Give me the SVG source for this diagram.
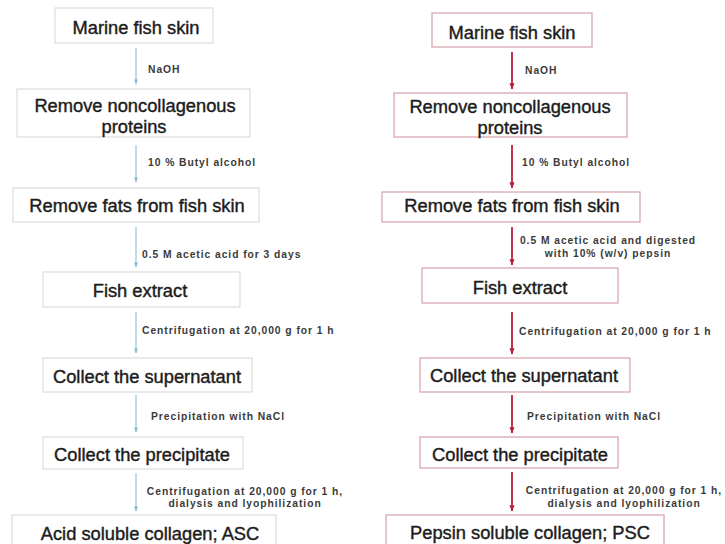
<svg xmlns="http://www.w3.org/2000/svg" width="725" height="544" viewBox="0 0 725 544">
<defs>
<marker id="ab" viewBox="0 0 6 6" refX="5.5" refY="3" markerWidth="5" markerHeight="5" orient="auto"><path d="M0,0.8 L6,3 L0,5.2 Z" fill="#7fb7d3"/></marker>
<marker id="ar" viewBox="0 0 6 6" refX="5.5" refY="3" markerWidth="3.5" markerHeight="3.5" orient="auto"><path d="M0,0.5 L6,3 L0,5.5 Z" fill="#b5203c"/></marker>
</defs>
<style>
.bl{fill:#fff;stroke:#dcdcdc;stroke-width:1.2}
.br{fill:#fff;stroke:#d9a8ae;stroke-width:1.3}
.t{font-family:"Liberation Sans",Arial,sans-serif;font-size:18.3px;fill:#1c1c1c;text-anchor:middle;stroke:#1c1c1c;stroke-width:0.4}
.l{font-family:"Liberation Sans",Arial,sans-serif;font-size:10.3px;font-weight:bold;letter-spacing:0.95px;fill:#3a3a3a}
.lm{text-anchor:middle}
.cl{stroke:#7fb7d3;stroke-width:1;fill:none}
.cr{stroke:#b5203c;stroke-width:1.8;fill:none}
</style>
<rect width="725" height="544" fill="#fff"/>
<g id="asc-flow">
<g id="L1"><rect class="bl" x="55" y="8" width="158" height="35"/><text class="t" x="136" y="33.5">Marine fish skin</text></g>
<g id="L2"><rect class="bl" x="17" y="89" width="233" height="48"/><text class="t" x="135" y="111.5">Remove noncollagenous</text><text class="t" x="134" y="132.5">proteins</text></g>
<g id="L3"><rect class="bl" x="13" y="188" width="246" height="34"/><text class="t" x="137" y="211.5">Remove fats from fish skin</text></g>
<g id="L4"><rect class="bl" x="43" y="272" width="197" height="35"/><text class="t" x="140" y="296.5">Fish extract</text></g>
<g id="L5"><rect class="bl" x="43" y="358" width="209" height="34"/><text class="t" x="147" y="382.5">Collect the supernatant</text></g>
<g id="L6"><rect class="bl" x="43" y="437" width="200" height="32"/><text class="t" x="142" y="461">Collect the precipitate</text></g>
<g id="L7"><rect class="bl" x="12" y="515" width="264" height="36"/><text class="t" x="150" y="539.5">Acid soluble collagen; ASC</text></g>
</g>
<g id="psc-flow">
<g id="R1"><rect class="br" x="432" y="13" width="160" height="34"/><text class="t" x="512" y="38.5">Marine fish skin</text></g>
<g id="R2"><rect class="br" x="394" y="93" width="233" height="44"/><text class="t" x="510" y="112.5">Remove noncollagenous</text><text class="t" x="510" y="133.5">proteins</text></g>
<g id="R3"><rect class="br" x="382" y="192" width="258" height="30"/><text class="t" x="512" y="211.5">Remove fats from fish skin</text></g>
<g id="R4"><rect class="br" x="422" y="268" width="196" height="35"/><text class="t" x="520" y="293.5">Fish extract</text></g>
<g id="R5"><rect class="br" x="420" y="358" width="210" height="34"/><text class="t" x="524" y="381.5">Collect the supernatant</text></g>
<g id="R6"><rect class="br" x="420" y="437" width="198" height="31"/><text class="t" x="520" y="460.5">Collect the precipitate</text></g>
<g id="R7"><rect class="br" x="386" y="515" width="278" height="36"/><text class="t" x="530" y="538.5">Pepsin soluble collagen; PSC</text></g>
</g>
<g id="connectors">
<line class="cl" x1="136" y1="48" x2="136" y2="84" marker-end="url(#ab)"/>
<line class="cl" x1="136" y1="145" x2="136" y2="182" marker-end="url(#ab)"/>
<line class="cl" x1="136" y1="227" x2="136" y2="267" marker-end="url(#ab)"/>
<line class="cl" x1="136" y1="312" x2="136" y2="353" marker-end="url(#ab)"/>
<line class="cl" x1="136" y1="395" x2="136" y2="432" marker-end="url(#ab)"/>
<line class="cl" x1="136" y1="473" x2="136" y2="511" marker-end="url(#ab)"/>
<line class="cr" x1="512" y1="52" x2="512" y2="89" marker-end="url(#ar)"/>
<line class="cr" x1="512" y1="145" x2="512" y2="188" marker-end="url(#ar)"/>
<line class="cr" x1="512" y1="227" x2="512" y2="265" marker-end="url(#ar)"/>
<line class="cr" x1="512" y1="312" x2="512" y2="354" marker-end="url(#ar)"/>
<line class="cr" x1="512" y1="395" x2="512" y2="433" marker-end="url(#ar)"/>
<line class="cr" x1="512" y1="472" x2="512" y2="511" marker-end="url(#ar)"/>
</g>
<g id="labels">
<text class="l" x="148" y="73">NaOH</text>
<text class="l" x="148" y="166">10 % Butyl alcohol</text>
<text class="l" x="142" y="257.5">0.5 M acetic acid for 3 days</text>
<text class="l" x="142" y="334">Centrifugation at 20,000 g for 1 h</text>
<text class="l" x="151" y="419.5">Precipitation with NaCl</text>
<text class="l lm" x="245" y="494.5">Centrifugation at 20,000 g for 1 h,</text>
<text class="l lm" x="245" y="507">dialysis and lyophilization</text>
<text class="l" x="525" y="73.5">NaOH</text>
<text class="l" x="522" y="165.5">10 % Butyl alcohol</text>
<text class="l lm" x="608" y="243.5">0.5 M acetic acid and digested</text>
<text class="l lm" x="608" y="257">with 10% (w/v) pepsin</text>
<text class="l" x="519" y="334.5">Centrifugation at 20,000 g for 1 h</text>
<text class="l" x="527" y="419.5">Precipitation with NaCl</text>
<text class="l lm" x="624" y="493.5">Centrifugation at 20,000 g for 1 h,</text>
<text class="l lm" x="624" y="506.5">dialysis and lyophilization</text>
</g>
</svg>
